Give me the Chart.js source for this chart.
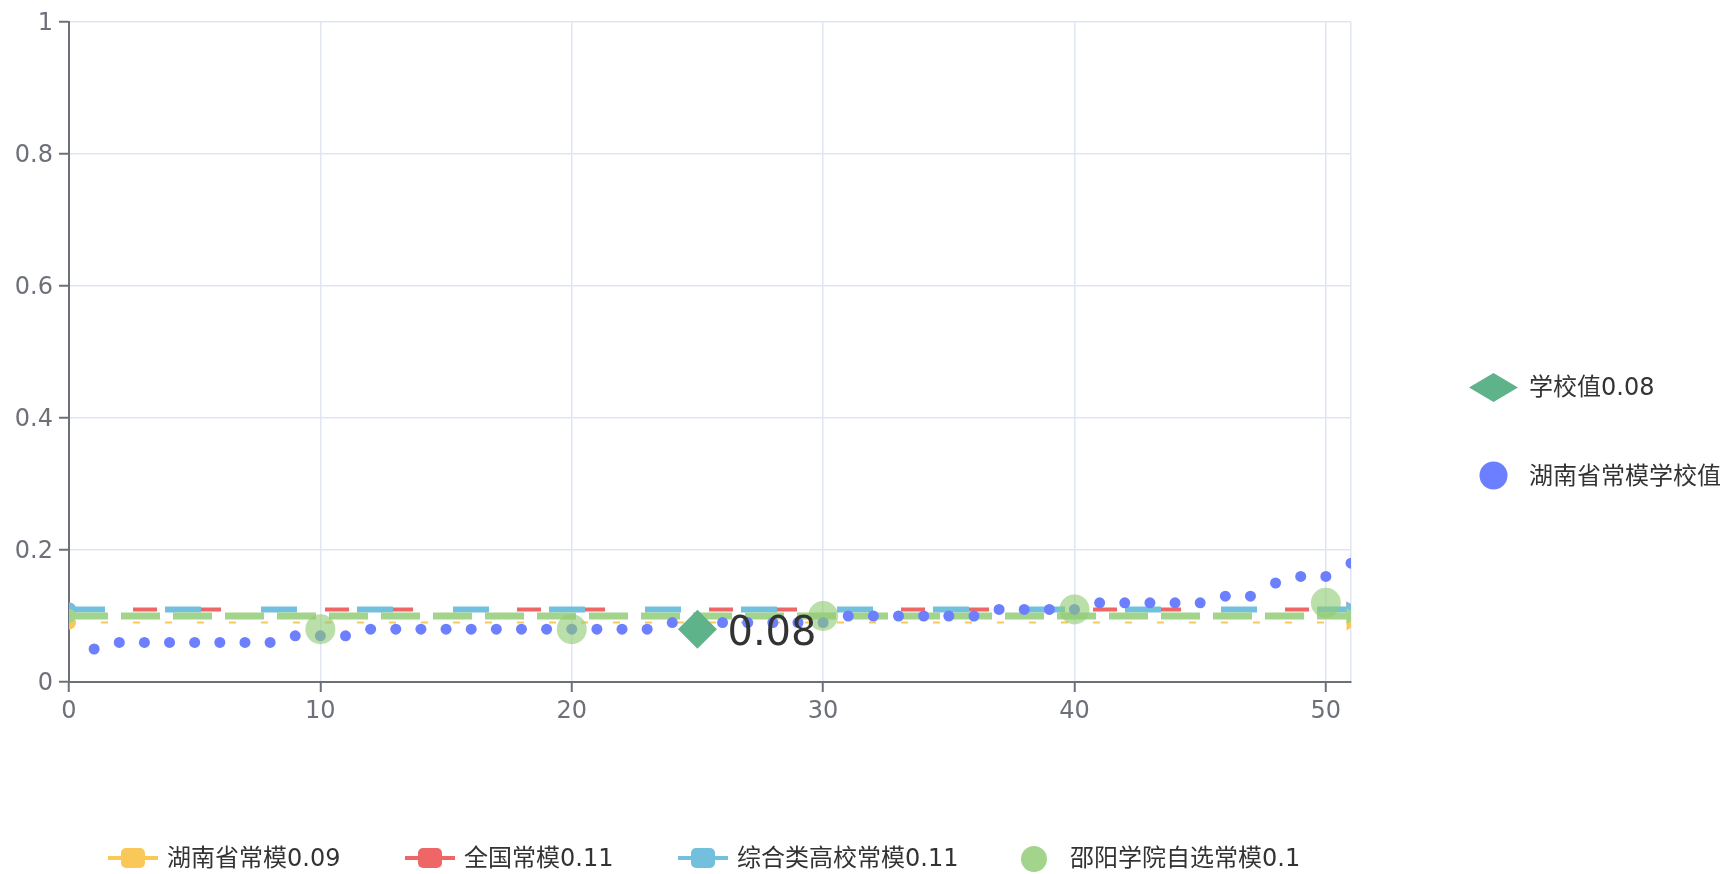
<!DOCTYPE html>
<html><head><meta charset="utf-8">
<script src="https://cdn.jsdelivr.net/npm/chart.js@4.4.1/dist/chart.umd.min.js"></script>
<style>html,body{margin:0;padding:0;background:#fff;}#wrap{width:1725px;height:874px;position:relative;}</style>
</head><body><div id="wrap"><canvas id="c" width="1725" height="874"></canvas></div>
<script>
const FONT = '"DejaVu Sans", "Noto Sans CJK SC", sans-serif';

// ---- data ----
const xTicks = [0, 10, 20, 30, 40, 50];
const xMax = 51;
const yTicks = [0, 0.2, 0.4, 0.6, 0.8, 1];

const schoolName = '学校值0.08';
const schoolX = [25];
const schoolY = [0.08];

const hunanSchoolName = '湖南省常模学校值';
const hunanSchoolX = [1,2,3,4,5,6,7,8,9,10,11,12,13,14,15,16,17,18,19,20,21,22,23,24,25,26,27,28,29,30,31,32,33,34,35,36,37,38,39,40,41,42,43,44,45,46,47,48,49,50,51];
const hunanSchoolY = [0.05,0.06,0.06,0.06,0.06,0.06,0.06,0.06,0.07,0.07,0.07,
  0.08,0.08,0.08,0.08,0.08,0.08,0.08,0.08,0.08,0.08,0.08,0.08,
  0.09,0.09,0.09,0.09,0.09,0.09,0.09,
  0.1,0.1,0.1,0.1,0.1,0.1,
  0.11,0.11,0.11,0.11,
  0.12,0.12,0.12,0.12,0.12,
  0.13,0.13,0.15,0.16,0.16,0.18];

const shaoyangName = '邵阳学院自选常模0.1';
const shaoyangX = [10, 20, 30, 40, 50];
const shaoyangY = [0.08, 0.08, 0.1, 0.11, 0.12];

const normNames = ['湖南省常模0.09', '全国常模0.11', '综合类高校常模0.11', '邵阳学院自选常模0.1'];
const normValues = [0.09, 0.11, 0.11, 0.1];
const normStartX = 0;
const normEndX = 51;

// ---- styles ----
const C_SCHOOL = '#5fb38b';
const C_DOTS = '#6b7fff';
const C_SHAOYANG_PT = 'rgba(145,204,117,0.62)';
const normColors = ['#fac858', '#ee6666', '#73c0de', '#a3d48c'];
const normWidths = [2, 4, 6, 7];
const normDashes = [[7, 25], [24, 40], [36, 60], [39, 13]];
const normOrder = [6, 5, 4, 3];
const AXIS = '#6e7079';
const GRID = '#e0e6f1';
const TRANSPARENT = 'rgba(0,0,0,0)';

const normDatasets = normValues.map((v, i) => ({
  label: normNames[i],
  data: [{x: normStartX, y: v}, {x: normEndX, y: v}],
  showLine: true,
  borderColor: normColors[i],
  borderWidth: normWidths[i],
  borderDash: normDashes[i],
  borderCapStyle: 'butt',
  pointStyle: ['circle', 'triangle'],
  pointRadius: [7, 9],
  pointRotation: [0, 90],
  pointBackgroundColor: normColors[i],
  pointBorderWidth: 0,
  order: normOrder[i]
}));

const datasets = [
  {
    label: schoolName,
    data: schoolX.map((x, i) => ({x, y: schoolY[i]})),
    pointStyle: 'rectRot', pointRadius: 19.5,
    backgroundColor: C_SCHOOL, pointBorderWidth: 0, borderWidth: 0, order: 0
  },
  {
    label: shaoyangName,
    data: shaoyangX.map((x, i) => ({x, y: shaoyangY[i]})),
    pointStyle: 'circle', pointRadius: 15,
    backgroundColor: C_SHAOYANG_PT, pointBorderWidth: 0, borderWidth: 0, order: 1
  },
  {
    label: hunanSchoolName,
    data: hunanSchoolX.map((x, i) => ({x, y: hunanSchoolY[i]})),
    pointStyle: 'circle', pointRadius: 5.5,
    backgroundColor: C_DOTS, pointBorderWidth: 0, borderWidth: 0, order: 2
  },
  ...normDatasets
];

const labelPlugin = {
  id: 'schoolLabel',
  afterDatasetsDraw(chart) {
    const meta = chart.getDatasetMeta(0);
    const ctx = chart.ctx;
    ctx.save();
    ctx.font = '40px ' + FONT;
    ctx.fillStyle = '#333';
    ctx.textAlign = 'left';
    ctx.textBaseline = 'middle';
    meta.data.forEach((el, i) => {
      ctx.fillText(String(schoolY[i]), el.x + 30, el.y + 5);
    });
    ctx.restore();
  }
};

function roundRect(ctx, x, y, w, h, r) {
  ctx.beginPath();
  ctx.moveTo(x + r, y);
  ctx.arcTo(x + w, y, x + w, y + h, r);
  ctx.arcTo(x + w, y + h, x, y + h, r);
  ctx.arcTo(x, y + h, x, y, r);
  ctx.arcTo(x, y, x + w, y, r);
  ctx.closePath();
}

const legendPlugin = {
  id: 'customLegends',
  afterDraw(chart) {
    const ctx = chart.ctx;
    ctx.save();
    ctx.font = '24px ' + FONT;
    ctx.textBaseline = 'middle';
    ctx.textAlign = 'left';
    // bottom legend
    const by = 858;
    const lineItems = [
      {left: 108, idx: 0},
      {left: 405, idx: 1},
      {left: 678, idx: 2}
    ];
    lineItems.forEach(it => {
      const col = normColors[it.idx];
      ctx.strokeStyle = col; ctx.lineWidth = 4;
      ctx.beginPath(); ctx.moveTo(it.left, by); ctx.lineTo(it.left + 50, by); ctx.stroke();
      ctx.fillStyle = col;
      roundRect(ctx, it.left + 13, by - 10, 24, 20, 5); ctx.fill();
      ctx.fillStyle = '#333';
      ctx.fillText(normNames[it.idx], it.left + 59, by + 2);
    });
    ctx.fillStyle = normColors[3];
    ctx.beginPath(); ctx.arc(1034, by + 1, 13, 0, Math.PI * 2); ctx.fill();
    ctx.fillStyle = '#333';
    ctx.fillText(shaoyangName, 1070, by + 2);

    // right legend
    ctx.fillStyle = C_SCHOOL;
    ctx.beginPath();
    ctx.moveTo(1469, 387.5); ctx.lineTo(1493.5, 373); ctx.lineTo(1518, 387.5); ctx.lineTo(1493.5, 402);
    ctx.closePath(); ctx.fill();
    ctx.fillStyle = '#333';
    ctx.fillText(schoolName, 1529, 389);
    ctx.fillStyle = C_DOTS;
    ctx.beginPath(); ctx.arc(1493.5, 475.5, 14, 0, Math.PI * 2); ctx.fill();
    ctx.fillStyle = '#333';
    ctx.fillText(hunanSchoolName, 1529, 478);
    ctx.restore();
  }
};

new Chart(document.getElementById('c'), {
  type: 'scatter',
  data: {datasets},
  options: {
    responsive: false,
    devicePixelRatio: 1,
    animation: false,
    layout: {padding: {top: 22, right: 374, left: 0, bottom: 0}},
    plugins: {legend: {display: false}, tooltip: {enabled: false}},
    scales: {
      x: {
        type: 'linear', min: 0, max: xMax,
        afterBuildTicks: s => { s.ticks = xTicks.concat([xMax]).map(v => ({value: v})); },
        afterFit: s => { s.height = 192; },
        ticks: {
          autoSkip: false, maxRotation: 0, padding: 5,
          color: AXIS, font: {family: FONT, size: 24},
          callback: v => xTicks.includes(v) ? String(v) : ''
        },
        grid: {
          color: c => (c.tick && c.tick.value === 0) ? TRANSPARENT : GRID,
          lineWidth: 1.5,
          tickColor: c => (c.tick && c.tick.value === xMax) ? TRANSPARENT : AXIS,
          tickLength: 10, tickWidth: 2
        },
        border: {color: AXIS, width: 2}
      },
      y: {
        min: 0, max: 1,
        afterBuildTicks: s => { s.ticks = yTicks.map(v => ({value: v})); },
        afterFit: s => { s.width = 69; },
        ticks: {
          padding: 6, labelOffset: 2, color: AXIS, font: {family: FONT, size: 24},
          callback: v => String(v)
        },
        grid: {
          color: c => (c.tick && c.tick.value === 0) ? TRANSPARENT : GRID,
          lineWidth: 1.5,
          tickColor: AXIS, tickLength: 10, tickWidth: 2
        },
        border: {color: AXIS, width: 2}
      }
    }
  },
  plugins: [labelPlugin, legendPlugin]
});
</script></body></html>
